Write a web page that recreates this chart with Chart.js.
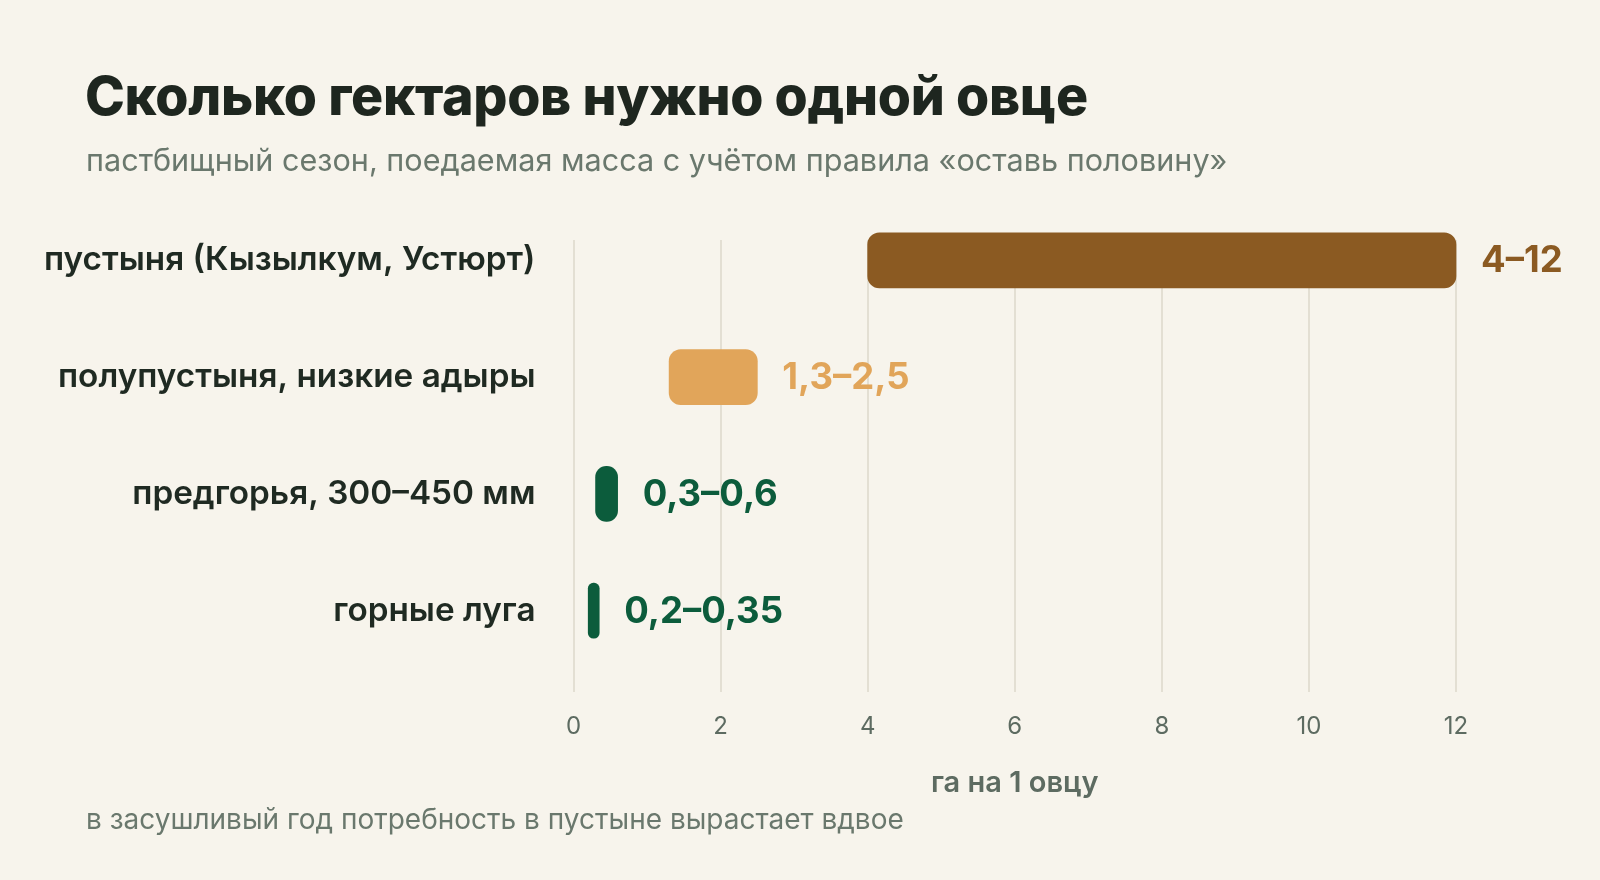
<!DOCTYPE html>
<html lang="ru">
<head>
<meta charset="utf-8">
<script src="https://cdn.jsdelivr.net/npm/chart.js@4.4.1/dist/chart.umd.min.js"></script>
<style>
  html, body { margin: 0; padding: 0; background: #f7f4ec; }
  body { width: 1600px; height: 880px; position: relative; overflow: hidden; font-family: Inter, "Noto Sans", sans-serif; }
  #title { position: absolute; left: 85px; top: 64px; font-size: 53.7px; font-weight: 800; color: #1e261f; letter-spacing: -0.3px; white-space: nowrap; line-height: 1.2; }
  #subtitle { position: absolute; left: 86px; top: 142px; font-size: 30.6px; font-weight: 400; color: #6a786d; white-space: nowrap; line-height: 1.2; }
  #note { position: absolute; left: 86px; top: 803px; font-size: 28px; font-weight: 400; color: #6a786d; white-space: nowrap; line-height: 1.2; }
  #wrap { position: absolute; left: 0; top: 0; width: 1600px; height: 880px; }
</style>
</head>
<body>
<div id="wrap"><canvas id="c" width="1600" height="880"></canvas></div>
<div id="title">Сколько гектаров нужно одной овце</div>
<div id="subtitle">пастбищный сезон, поедаемая масса с учётом правила «оставь половину»</div>
<div id="note">в засушливый год потребность в пустыне вырастает вдвое</div>
<script>
const categories = ["пустыня (Кызылкум, Устюрт)", "полупустыня, низкие адыры", "предгорья, 300–450 мм", "горные луга"];
const lowValues = [4, 1.3, 0.3, 0.2];
const highValues = [12, 2.5, 0.6, 0.35];
const valueLabels = ["4–12", "1,3–2,5", "0,3–0,6", "0,2–0,35"];
const barColors = ["#8b5a22", "#e1a55a", "#0c5c3c", "#0c5c3c"];
const xTicks = [0, 2, 4, 6, 8, 10, 12];
const axisTitle = "га на 1 овцу";

const rangeData = categories.map((c, i) => ({ y: i, x: [lowValues[i], highValues[i]] }));

const valueLabelPlugin = {
  id: 'valueLabels',
  afterDatasetsDraw(chart) {
    const ctx = chart.ctx;
    const meta = chart.getDatasetMeta(0);
    ctx.save();
    ctx.font = "700 36.5px Inter, sans-serif";
    ctx.textBaseline = "middle";
    ctx.textAlign = "left";
    meta.data.forEach((el, i) => {
      ctx.fillStyle = barColors[i];
      ctx.fillText(valueLabels[i], el.x + 25, el.y + 1);
    });
    ctx.restore();
  }
};

new Chart(document.getElementById('c'), {
  type: 'bar',
  data: {
    datasets: [{
      data: rangeData,
      backgroundColor: barColors,
      borderRadius: 12,
      borderSkipped: false,
      barThickness: 55,
      clip: false
    }]
  },
  options: {
    indexAxis: 'y',
    responsive: false,
    animation: false,
    devicePixelRatio: 1,
    layout: { padding: { left: 0, right: 144, top: 240, bottom: 79 } },
    plugins: { legend: { display: false }, tooltip: { enabled: false } },
    scales: {
      x: {
        type: 'linear',
        position: 'bottom',
        min: 0,
        max: 12,
        afterBuildTicks: s => { s.ticks = xTicks.map(v => ({ value: v })); },
        grid: { color: '#e3dfd3', lineWidth: 2, drawTicks: false },
        border: { display: false },
        ticks: { padding: 20, color: '#5d6b61', font: { family: 'Inter', size: 24, weight: '400' } },
        title: {
          display: true,
          text: axisTitle,
          color: '#5d6b61',
          font: { family: 'Inter', size: 29, weight: '600' },
          padding: { top: 5, bottom: 0 }
        }
      },
      y: {
        type: 'linear',
        position: 'left',
        reverse: true,
        offset: false,
        min: -0.175,
        max: 3.70,
        afterBuildTicks: s => { s.ticks = categories.map((c, i) => ({ value: i })); },
        afterFit: s => { s.width = 573.5; },
        grid: { display: false },
        border: { display: false },
        ticks: {
          padding: 30,
          color: '#1f2a22',
          font: { family: 'Inter', size: 33.3, weight: '600' },
          callback: v => categories[v] ?? ''
        }
      }
    }
  },
  plugins: [valueLabelPlugin]
});
</script>
</body>
</html>
